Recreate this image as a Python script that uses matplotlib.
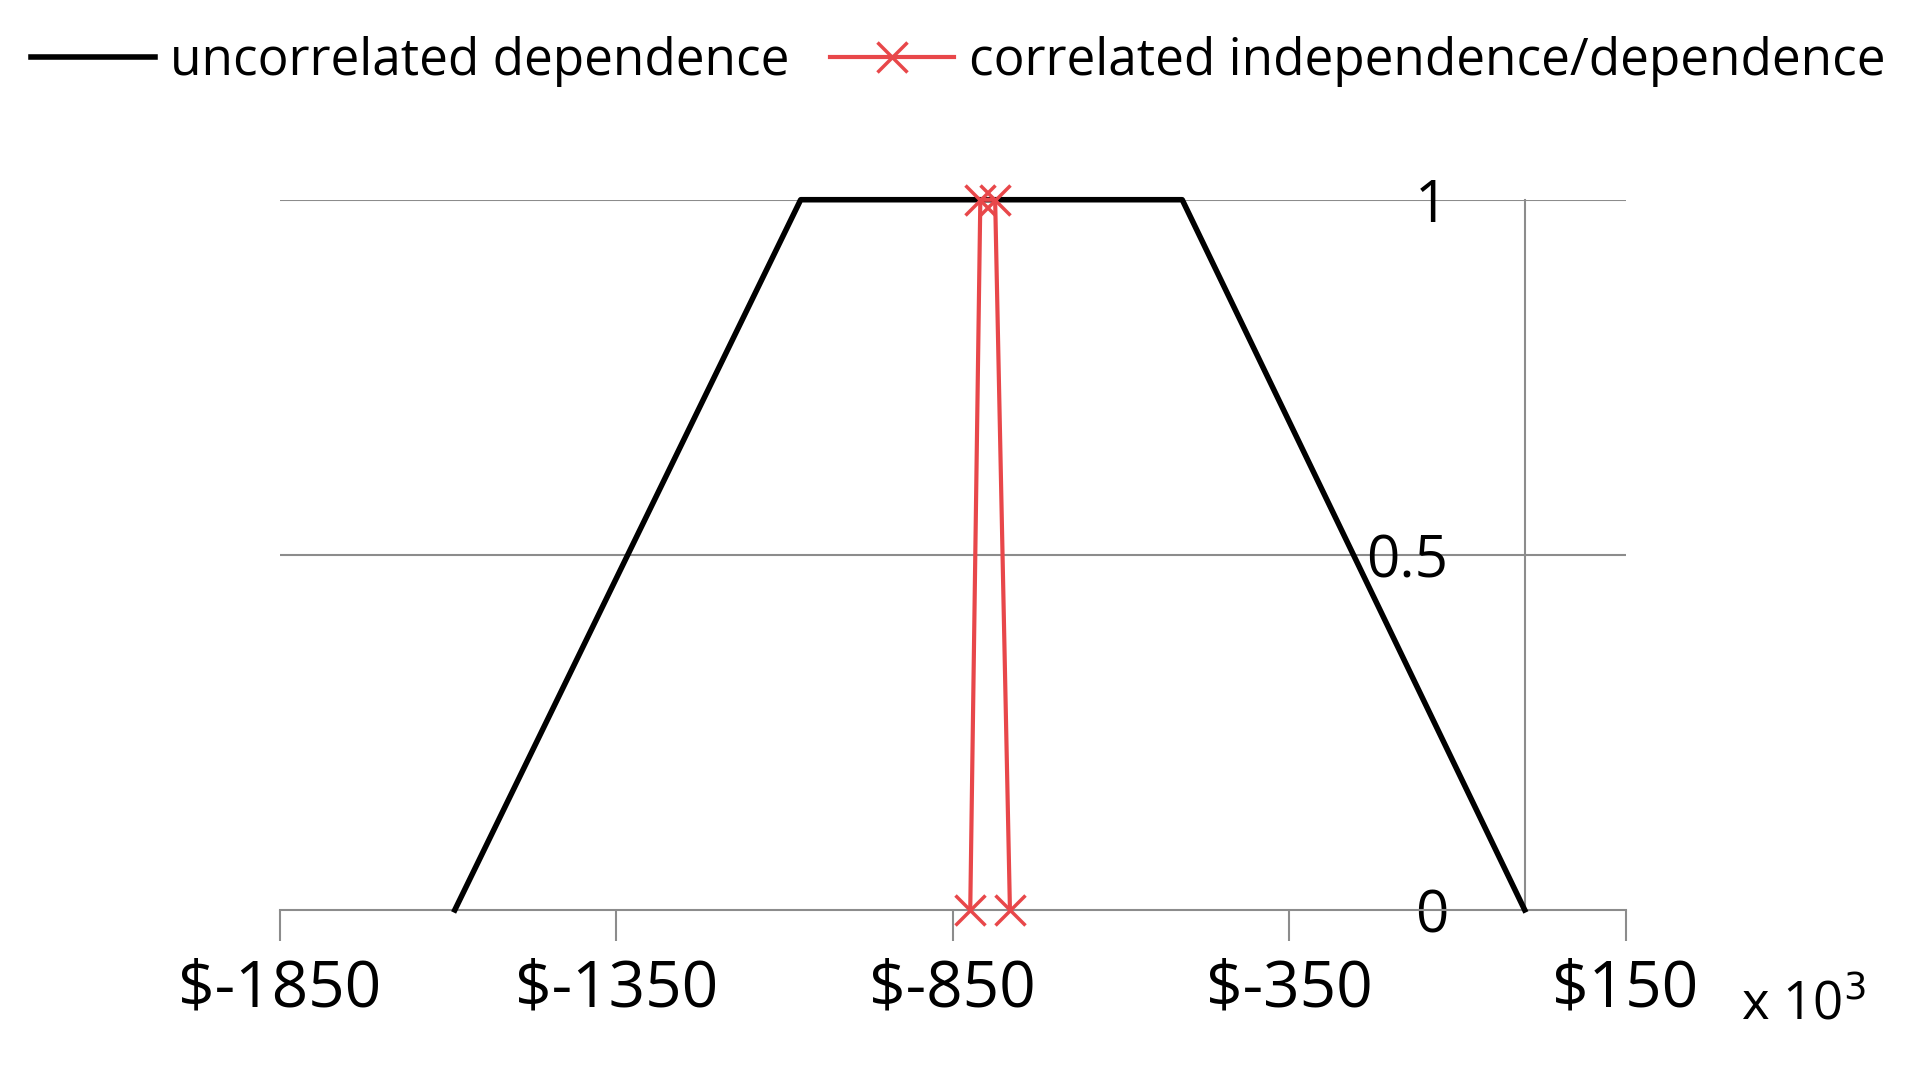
import matplotlib
matplotlib.use("Agg")
import matplotlib.pyplot as plt

plt.rcParams['font.family'] = ['Open Sans', 'DejaVu Sans']

black_x = [-1590, -1076, -509, 0]
black_y = [0, 1, 1, 0]
red_x = [-824, -809, -787, -765]
red_y = [0, 1, 1, 0]
xticks = [-1850, -1350, -850, -350, 150]
xlabels = ['$-1850', '$-1350', '$-850', '$-350', '$150']
yticks = [0, 0.5, 1]
ylabels = ['0', '0.5', '1']

fig = plt.figure(figsize=(19.17, 10.68), dpi=100)
ax = fig.add_axes([0.146, 0.148, 0.702, 0.665])
ax.set_xlim(-1850, 150)
ax.set_ylim(0, 1)
for y in [0.5, 1]:
    ax.axhline(y, color='#8c8c8c', lw=1.5, zorder=1)
ax.plot(black_x, black_y, color='black', lw=4, label='uncorrelated dependence', zorder=3, clip_on=False)
ax.plot(red_x, red_y, color='#e8474a', lw=3, marker='x', ms=22, mew=2.5,
        label='correlated independence/dependence', zorder=4, clip_on=False)
for s in ['top', 'right']:
    ax.spines[s].set_visible(False)
ax.spines['left'].set_position(('data', 0))
ax.spines['left'].set_color('#8c8c8c')
ax.spines['left'].set_linewidth(1.5)
ax.spines['bottom'].set_color('#8c8c8c')
ax.spines['bottom'].set_linewidth(1.5)
ax.set_xticks(xticks)
ax.set_xticklabels(xlabels, fontsize=46)
ax.set_yticks(yticks)
ax.set_yticklabels(ylabels, fontsize=42)
ax.tick_params(axis='x', length=22, width=1.5, color='#8c8c8c', direction='out', pad=12)
ax.tick_params(axis='y', length=0, pad=55)
fig.text(0.908, 0.058, r'x 10$^3$', fontsize=38, ha='left', va='center')
fig.legend(loc='upper center', bbox_to_anchor=(0.5, 1.01), ncol=2, frameon=False,
           fontsize=37, handlelength=2.4, columnspacing=0.8, handletextpad=0.3)
fig.savefig('out.png', dpi=100)
